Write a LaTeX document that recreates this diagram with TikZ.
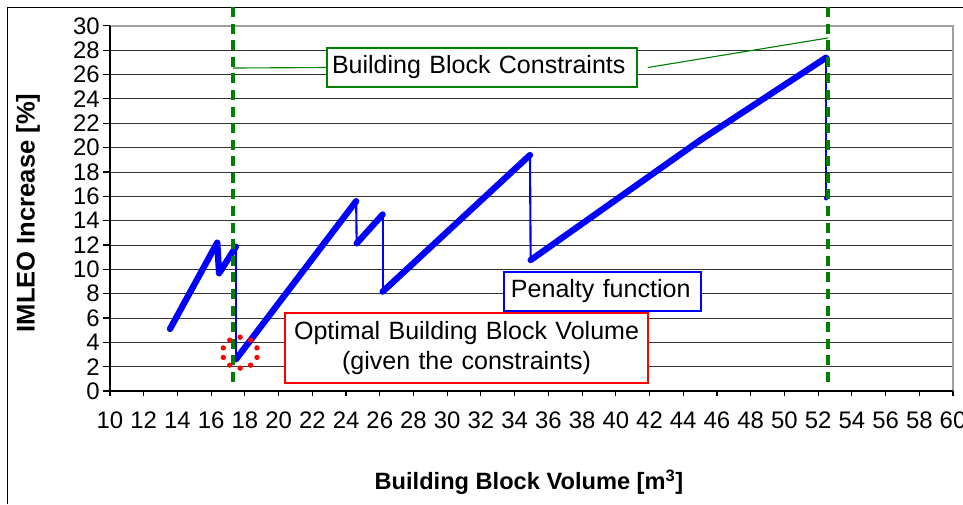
\documentclass[tikz,border=0pt]{standalone}
\usepackage{fontspec}
\setmainfont{Liberation Sans}

\begin{document}
\begin{tikzpicture}[x=0.4215cm,y=0.30425cm,font=\fontsize{17}{19}\selectfont,
  grid/.style={black!80,line width=0.6pt},
  axis/.style={black,line width=0.8pt},
  ticklab/.style={inner sep=0pt},
  curve/.style={blue,line width=4.5pt,line cap=round,line join=round},
  jump/.style={blue,line width=1.5pt,line cap=round},
  limit/.style={green!50!black,line width=2.3pt,dash pattern=on 7.1pt off 4.7pt},
  note/.style={draw,fill=white,line width=1.1pt,font=\fontsize{17.8}{22}\selectfont}]
\useasboundingbox (3.476,-9.285) rectangle (60.593,32.128);
% chart frame
\draw[line width=0.7pt] (3.891,-9.285) -- (3.891,31.553) -- (60.593,31.553);
% y grid, ticks and labels
\draw[grid] (10,2) -- (60,2);
\draw[grid] (10,4) -- (60,4);
\draw[grid] (10,6) -- (60,6);
\draw[grid] (10,8) -- (60,8);
\draw[grid] (10,10) -- (60,10);
\draw[grid] (10,12) -- (60,12);
\draw[grid] (10,14) -- (60,14);
\draw[grid] (10,16) -- (60,16);
\draw[grid] (10,18) -- (60,18);
\draw[grid] (10,20) -- (60,20);
\draw[grid] (10,22) -- (60,22);
\draw[grid] (10,24) -- (60,24);
\draw[grid] (10,26) -- (60,26);
\draw[grid] (10,28) -- (60,28);
\draw[gray!75,line width=1.4pt] (10,30) -- (60,30) -- (60,0);
\draw[axis] (10,30) -- (10,0) -- (60,0);
\draw[axis] (9.585,0) -- (10,0);
\node[ticklab,anchor=east] (y0) at (9.407,0) {0};
\draw[axis] (9.585,2) -- (10,2);
\node[ticklab,anchor=east] (y2) at (9.407,2) {2};
\draw[axis] (9.585,4) -- (10,4);
\node[ticklab,anchor=east] (y4) at (9.407,4) {4};
\draw[axis] (9.585,6) -- (10,6);
\node[ticklab,anchor=east] (y6) at (9.407,6) {6};
\draw[axis] (9.585,8) -- (10,8);
\node[ticklab,anchor=east] (y8) at (9.407,8) {8};
\draw[axis] (9.585,10) -- (10,10);
\node[ticklab,anchor=east] (y10) at (9.407,10) {10};
\draw[axis] (9.585,12) -- (10,12);
\node[ticklab,anchor=east] (y12) at (9.407,12) {12};
\draw[axis] (9.585,14) -- (10,14);
\node[ticklab,anchor=east] (y14) at (9.407,14) {14};
\draw[axis] (9.585,16) -- (10,16);
\node[ticklab,anchor=east] (y16) at (9.407,16) {16};
\draw[axis] (9.585,18) -- (10,18);
\node[ticklab,anchor=east] (y18) at (9.407,18) {18};
\draw[axis] (9.585,20) -- (10,20);
\node[ticklab,anchor=east] (y20) at (9.407,20) {20};
\draw[axis] (9.585,22) -- (10,22);
\node[ticklab,anchor=east] (y22) at (9.407,22) {22};
\draw[axis] (9.585,24) -- (10,24);
\node[ticklab,anchor=east] (y24) at (9.407,24) {24};
\draw[axis] (9.585,26) -- (10,26);
\node[ticklab,anchor=east] (y26) at (9.407,26) {26};
\draw[axis] (9.585,28) -- (10,28);
\node[ticklab,anchor=east] (y28) at (9.407,28) {28};
\draw[axis] (9.585,30) -- (10,30);
\node[ticklab,anchor=east] (y30) at (9.407,30) {30};
% x ticks and labels
\draw[axis] (10,0) -- (10,-0.45);
\node[ticklab,anchor=base] (x10) at (10,-3.1) {10};
\draw[axis] (12,0) -- (12,-0.45);
\node[ticklab,anchor=base] (x12) at (12,-3.1) {12};
\draw[axis] (14,0) -- (14,-0.45);
\node[ticklab,anchor=base] (x14) at (14,-3.1) {14};
\draw[axis] (16,0) -- (16,-0.45);
\node[ticklab,anchor=base] (x16) at (16,-3.1) {16};
\draw[axis] (18,0) -- (18,-0.45);
\node[ticklab,anchor=base] (x18) at (18,-3.1) {18};
\draw[axis] (20,0) -- (20,-0.45);
\node[ticklab,anchor=base] (x20) at (20,-3.1) {20};
\draw[axis] (22,0) -- (22,-0.45);
\node[ticklab,anchor=base] (x22) at (22,-3.1) {22};
\draw[axis] (24,0) -- (24,-0.45);
\node[ticklab,anchor=base] (x24) at (24,-3.1) {24};
\draw[axis] (26,0) -- (26,-0.45);
\node[ticklab,anchor=base] (x26) at (26,-3.1) {26};
\draw[axis] (28,0) -- (28,-0.45);
\node[ticklab,anchor=base] (x28) at (28,-3.1) {28};
\draw[axis] (30,0) -- (30,-0.45);
\node[ticklab,anchor=base] (x30) at (30,-3.1) {30};
\draw[axis] (32,0) -- (32,-0.45);
\node[ticklab,anchor=base] (x32) at (32,-3.1) {32};
\draw[axis] (34,0) -- (34,-0.45);
\node[ticklab,anchor=base] (x34) at (34,-3.1) {34};
\draw[axis] (36,0) -- (36,-0.45);
\node[ticklab,anchor=base] (x36) at (36,-3.1) {36};
\draw[axis] (38,0) -- (38,-0.45);
\node[ticklab,anchor=base] (x38) at (38,-3.1) {38};
\draw[axis] (40,0) -- (40,-0.45);
\node[ticklab,anchor=base] (x40) at (40,-3.1) {40};
\draw[axis] (42,0) -- (42,-0.45);
\node[ticklab,anchor=base] (x42) at (42,-3.1) {42};
\draw[axis] (44,0) -- (44,-0.45);
\node[ticklab,anchor=base] (x44) at (44,-3.1) {44};
\draw[axis] (46,0) -- (46,-0.45);
\node[ticklab,anchor=base] (x46) at (46,-3.1) {46};
\draw[axis] (48,0) -- (48,-0.45);
\node[ticklab,anchor=base] (x48) at (48,-3.1) {48};
\draw[axis] (50,0) -- (50,-0.45);
\node[ticklab,anchor=base] (x50) at (50,-3.1) {50};
\draw[axis] (52,0) -- (52,-0.45);
\node[ticklab,anchor=base] (x52) at (52,-3.1) {52};
\draw[axis] (54,0) -- (54,-0.45);
\node[ticklab,anchor=base] (x54) at (54,-3.1) {54};
\draw[axis] (56,0) -- (56,-0.45);
\node[ticklab,anchor=base] (x56) at (56,-3.1) {56};
\draw[axis] (58,0) -- (58,-0.45);
\node[ticklab,anchor=base] (x58) at (58,-3.1) {58};
\draw[axis] (60,0) -- (60,-0.45);
\node[ticklab,anchor=base] (x60) at (60,-3.1) {60};
% axis titles
\node[font=\bfseries\fontsize{18.2}{20}\selectfont,rotate=90] (ylab) at (5.136,14.63) {IMLEO Increase [\%]};
\node[font=\bfseries\fontsize{16.8}{20}\selectfont,anchor=base] (xlab) at (34.85,-8.13) {Building Block Volume [m\textsuperscript{3}]};
% penalty curve
\draw[curve] (13.56,5.1) -- (16.36,12.19) -- (16.47,9.67) -- (17.47,11.86);
\draw[jump] (17.47,11.86) -- (17.47,2.60);
\draw[curve] (17.47,2.60) -- (24.6,15.6);
\draw[jump] (24.6,15.6) -- (24.63,12.13);
\draw[curve] (24.63,12.13) -- (26.17,14.5);
\draw[jump] (26.17,14.5) -- (26.17,8.16);
\draw[curve] (26.17,8.16) -- (34.91,19.39);
\draw[jump] (34.91,19.39) -- (34.95,10.76);
\draw[curve] (34.95,10.76) -- (45,20.6) -- (52.47,27.39);
\draw[jump] (52.47,27.39) -- (52.47,15.83);
\fill[blue] (52.47,15.83) circle[radius=1.5pt];
% constraint limits
\draw[limit] (17.30,31.553) -- (17.30,0.41);
\draw[limit] (52.59,31.553) -- (52.59,0.41);
% optimum marker
\fill[red] (17.72,4.42) circle[radius=1.9pt] (18.337,4.177) circle[radius=1.9pt]
  (18.719,3.542) circle[radius=1.9pt] (18.719,2.758) circle[radius=1.9pt]
  (18.337,2.123) circle[radius=1.9pt] (17.72,1.88) circle[radius=1.9pt]
  (17.103,2.123) circle[radius=1.9pt] (16.721,2.758) circle[radius=1.9pt]
  (16.721,3.542) circle[radius=1.9pt] (17.103,4.177) circle[radius=1.9pt];
% callouts
\node[note,draw=green!50!black,text width=7.5cm,inner xsep=0.125cm,minimum height=0.975cm,align=left] (bbc) at (32.065,26.58) {Building Block Constraints};
\coordinate (lo) at (17.30,26.54);
\coordinate (hi) at (52.59,29.01);
\draw[green!50!black,line width=0.8pt] (lo) -- (bbc.west);
\draw[green!50!black,line width=0.8pt] ([xshift=0.25cm]bbc.east) -- (hi);
\node[note,draw=red,text width=8.8cm,inner xsep=0.1375cm,minimum height=1.75cm,align=center] (opt) at (31.145,3.53) {Optimal Building Block Volume\\(given the constraints)};
\node[note,draw=blue,text width=4.575cm,inner xsep=0.175cm,minimum height=0.975cm,align=left] (pen) at (39.21,8.175) {Penalty function};
\end{tikzpicture}
\end{document}
